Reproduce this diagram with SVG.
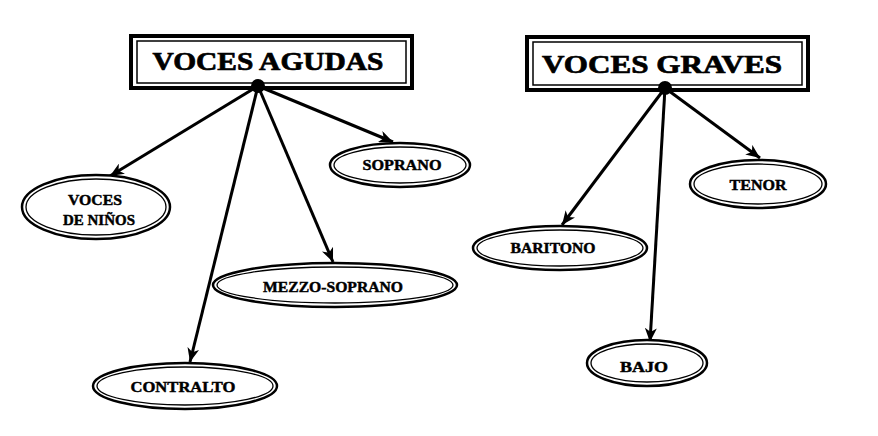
<svg xmlns="http://www.w3.org/2000/svg" width="878" height="436" viewBox="0 0 878 436">
<style>
.bg{fill:#fff}
.outer{fill:#fff;stroke:#000;stroke-width:4}
.inner{fill:none;stroke:#000;stroke-width:1.5}
.eo{fill:#fff;stroke:#000;stroke-width:2.5}
.ei{fill:none;stroke:#000;stroke-width:1.3}
.title{font-family:"Liberation Serif","Times New Roman",serif;font-weight:bold;font-size:26px;fill:#000;stroke:#000;stroke-width:0.7;text-anchor:middle}
.lbl{font-family:"Liberation Serif","Times New Roman",serif;font-weight:bold;font-size:15px;fill:#000;stroke:#000;stroke-width:0.45;text-anchor:middle}
.conn line{stroke:#000;stroke-width:3;marker-end:url(#ah)}
.dot{fill:#000}
</style>
<defs>
<marker id="ah" markerUnits="userSpaceOnUse" markerWidth="16" markerHeight="12" refX="14" refY="6" orient="auto">
<path d="M0,0 L14,6 L0,12 L4,6 Z" fill="#000"/>
</marker>
</defs>
<rect class="bg" x="0" y="0" width="878" height="436"/>

<g id="voces-agudas">
<rect class="outer" x="131" y="36" width="281" height="52"/>
<rect class="inner" x="137" y="41" width="269" height="42"/>
<text class="title" x="268" y="70" textLength="231" lengthAdjust="spacingAndGlyphs">VOCES AGUDAS</text>
</g>
<g id="voces-graves">
<rect class="outer" x="527" y="37" width="281" height="53"/>
<rect class="inner" x="533" y="42" width="269" height="43"/>
<text class="title" x="662" y="73" textLength="240" lengthAdjust="spacingAndGlyphs">VOCES GRAVES</text>
</g>

<g id="connectors" class="conn">
<line x1="258" y1="86" x2="110" y2="176"/>
<line x1="258" y1="86" x2="190" y2="362"/>
<line x1="258" y1="86" x2="333" y2="262"/>
<line x1="258" y1="86" x2="393" y2="142"/>
<line x1="665" y1="88" x2="562" y2="225"/>
<line x1="665" y1="88" x2="650" y2="342"/>
<line x1="665" y1="88" x2="760" y2="158"/>
<circle class="dot" cx="258" cy="86" r="7"/>
<circle class="dot" cx="665" cy="88" r="7"/>
</g>

<g id="voces-de-ninos">
<ellipse class="eo" cx="96" cy="207" rx="74" ry="32"/>
<ellipse class="ei" cx="96" cy="207" rx="70" ry="28"/>
<text class="lbl" x="95" y="205" textLength="54" lengthAdjust="spacingAndGlyphs">VOCES</text>
<text class="lbl" x="99" y="225" textLength="72" lengthAdjust="spacingAndGlyphs">DE NIÑOS</text>
</g>
<g id="soprano">
<ellipse class="eo" cx="400" cy="165" rx="70" ry="22"/>
<ellipse class="ei" cx="400" cy="165" rx="66" ry="18"/>
<text class="lbl" x="402" y="170" textLength="79" lengthAdjust="spacingAndGlyphs">SOPRANO</text>
</g>
<g id="mezzo-soprano">
<ellipse class="eo" cx="335" cy="285" rx="122" ry="22"/>
<ellipse class="ei" cx="335" cy="285" rx="118" ry="18"/>
<text class="lbl" x="333" y="292" textLength="140" lengthAdjust="spacingAndGlyphs">MEZZO-SOPRANO</text>
</g>
<g id="contralto">
<ellipse class="eo" cx="185" cy="386" rx="92" ry="23"/>
<ellipse class="ei" cx="185" cy="386" rx="88" ry="19"/>
<text class="lbl" x="183" y="392" textLength="105" lengthAdjust="spacingAndGlyphs">CONTRALTO</text>
</g>
<g id="tenor">
<ellipse class="eo" cx="758" cy="184" rx="68" ry="24"/>
<ellipse class="ei" cx="758" cy="184" rx="64" ry="20"/>
<text class="lbl" x="758" y="190" textLength="57" lengthAdjust="spacingAndGlyphs">TENOR</text>
</g>
<g id="baritono">
<ellipse class="eo" cx="560" cy="248" rx="87" ry="22"/>
<ellipse class="ei" cx="560" cy="248" rx="83" ry="18"/>
<text class="lbl" x="553" y="253" textLength="85" lengthAdjust="spacingAndGlyphs">BARITONO</text>
</g>
<g id="bajo">
<ellipse class="eo" cx="647" cy="363" rx="60" ry="23"/>
<ellipse class="ei" cx="647" cy="363" rx="56" ry="19"/>
<text class="lbl" x="644" y="372" textLength="48" lengthAdjust="spacingAndGlyphs">BAJO</text>
</g>
</svg>
